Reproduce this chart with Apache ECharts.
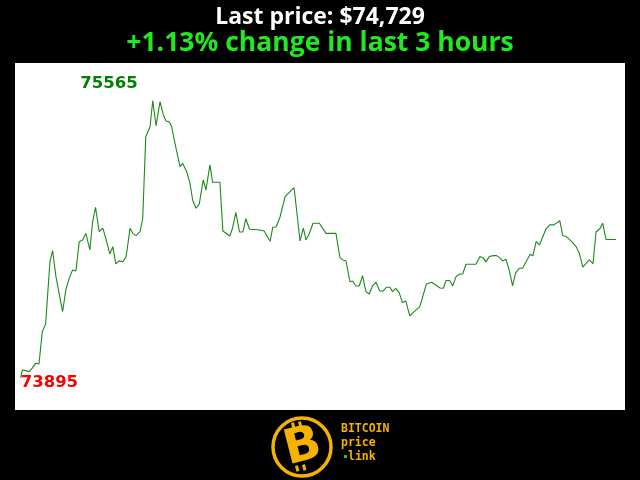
<!DOCTYPE html>
<html>
<head>
<meta charset="utf-8">
<script src="https://cdn.jsdelivr.net/npm/echarts@6/dist/echarts.min.js"></script>
<style>
html,body{margin:0;padding:0;background:#000;}
#chart{width:640px;height:480px;}
</style>
</head>
<body>
<div id="chart"></div>
<script>
// Minutes since start of the 3-hour window (x) and BTC price (y)
const minutes = [0.0,0.5,1.5,2.5,3.5,4.5,5.5,6.5,7.5,8.8,9.6,10.6,12.6,13.6,14.6,15.6,16.6,17.6,18.6,19.6,
  20.8,21.6,22.5,23.6,24.7,25.6,26.8,27.7,28.6,29.6,30.7,31.7,32.9,33.7,34.7,35.9,36.7,37.6,38.9,39.7,
  40.7,41.9,42.9,43.7,44.7,45.4,46.4,47.9,48.7,49.9,50.9,51.7,52.7,53.7,54.9,55.7,56.9,57.7,59.9,60.8,
  62.9,63.7,64.7,65.8,66.8,67.7,68.8,71.4,73.2,75.0,75.8,76.8,78.0,79.5,82.2,82.8,84.0,85.0,85.8,86.8,
  87.9,89.8,91.8,94.8,96.0,96.8,97.8,99.0,99.8,100.8,101.8,102.8,103.8,104.8,105.8,106.8,108.0,109.0,110.0,111.0,
  111.8,112.8,113.8,114.8,115.8,117.0,118.0,120.0,120.7,122.0,123.6,126.1,127.1,127.9,129.0,129.9,130.9,132.1,132.9,133.9,
  136.9,138.1,139.1,139.9,140.9,142.1,143.1,144.0,144.9,145.9,146.9,147.9,148.8,149.9,150.9,153.2,154.0,155.0,156.0,157.9,
  159.1,160.3,162.1,163.0,164.0,166.0,167.0,168.0,169.0,171.0,172.1,173.0,174.2,175.0,176.0,179.0];
const prices = [73895,73943,73939,73933,73954,73984,73979,74174,74220,74595,74662,74505,74294,74429,74495,74545,74539,74716,74726,74766,
  74666,74830,74923,74776,74797,74736,74642,74686,74582,74600,74595,74626,74797,74766,74752,74776,74857,75348,75408,75565,
  75414,75559,75479,75443,75437,75408,75308,75168,75188,75137,75068,74967,74917,74943,75088,75027,75178,75074,75074,74780,
  74750,74797,74892,74774,74774,74854,74791,74788,74780,74718,74803,74804,74866,74987,75042,75051,74720,74797,74726,74765,
  74827,74827,74766,74766,74620,74606,74601,74475,74479,74449,74449,74511,74415,74401,74449,74471,74419,74419,74441,74441,
  74415,74435,74409,74349,74359,74269,74288,74325,74371,74461,74471,74437,74435,74482,74482,74449,74505,74521,74521,74580,
  74580,74627,74618,74594,74626,74632,74632,74620,74600,74610,74545,74449,74526,74556,74556,74640,74631,74716,74696,74791,
  74817,74817,74842,74752,74748,74710,74686,74646,74562,74606,74583,74774,74795,74827,74729,74729];
const lastPriceText = '$74,729';
const changeText = '+1.13%';
const hoursText = '3 hours';
const logoLines = ['BITCOIN', 'price', 'link'];

const seriesData = minutes.map((m, i) => [m, prices[i]]);

const chart = echarts.init(document.getElementById('chart'), null, {renderer: 'canvas'});
const gold = '#f5b300';
chart.setOption({
  backgroundColor: '#000',
  animation: false,
  title: [
    {text: 'Last price: ' + lastPriceText, left: 'center', top: 1,
     textStyle: {color: '#ffffff', fontSize: 23, fontWeight: 'bold', fontFamily: 'Open Sans'}},
    {text: changeText + ' change in last ' + hoursText, left: 'center', top: 25,
     textStyle: {color: '#22e822', fontSize: 26.5, fontWeight: 'bold', fontFamily: 'Open Sans'}}
  ],
  grid: {left: 15, right: 15, top: 63, bottom: 70, show: true, backgroundColor: '#ffffff', borderWidth: 0},
  xAxis: {type: 'value', min: -1.71, max: 181.71, show: false},
  yAxis: {type: 'value', min: 73702, max: 75792, show: false},
  series: [{
    type: 'line',
    data: seriesData,
    symbol: 'none',
    lineStyle: {color: '#1a8a1a', width: 1.1},
    markPoint: {
      symbol: 'circle', symbolSize: 0,
      data: [
        {type: 'max', label: {show: true, position: [-15, -17], align: 'right', verticalAlign: 'middle',
          color: '#008000', fontSize: 16.5, fontWeight: 'bold', fontFamily: 'DejaVu Sans', formatter: '{c}'}},
        {type: 'min', label: {show: true, position: [0, 5], align: 'left', verticalAlign: 'middle',
          color: '#ff0000', fontSize: 16.5, fontWeight: 'bold', fontFamily: 'DejaVu Sans', formatter: '{c}'}}
      ]
    }
  }],
  graphic: [
    {type: 'circle', shape: {cx: 302, cy: 447, r: 29}, style: {fill: '#000', stroke: gold, lineWidth: 3.5}},
    {type: 'text', x: 303, y: 448, rotation: 0.25, style: {text: 'B', fill: gold, font: 'bold 48px DejaVu Sans', align: 'center', verticalAlign: 'middle'}},
    {type: 'rect', x: 291, y: 423, rotation: 0.25, shape: {width: 3, height: 6}, style: {fill: gold}},
    {type: 'rect', x: 298, y: 422, rotation: 0.25, shape: {width: 3, height: 6}, style: {fill: gold}},
    {type: 'rect', x: 295, y: 466, rotation: 0.25, shape: {width: 3, height: 6}, style: {fill: gold}},
    {type: 'rect', x: 302, y: 465, rotation: 0.25, shape: {width: 3, height: 6}, style: {fill: gold}},
    {type: 'text', x: 341, y: 429, style: {text: logoLines[0], fill: gold, font: 'bold 11.5px DejaVu Sans Mono', verticalAlign: 'middle'}},
    {type: 'text', x: 341, y: 443, style: {text: logoLines[1], fill: gold, font: 'bold 11.5px DejaVu Sans Mono', verticalAlign: 'middle'}},
    {type: 'rect', x: 344, y: 455, shape: {width: 3, height: 3}, style: {fill: '#22cc22'}},
    {type: 'text', x: 348, y: 457, style: {text: logoLines[2], fill: gold, font: 'bold 11.5px DejaVu Sans Mono', verticalAlign: 'middle'}}
  ]
});
</script>
</body>
</html>
